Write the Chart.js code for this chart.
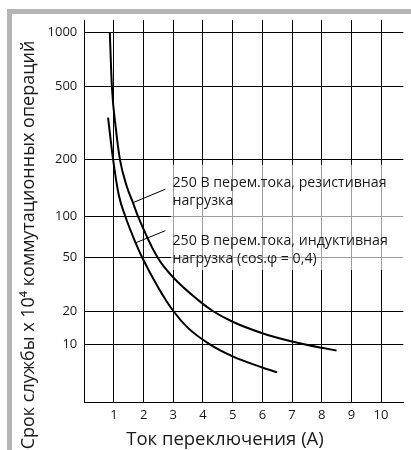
<!DOCTYPE html>
<html>
<head>
<meta charset="utf-8">
<script src="https://cdn.jsdelivr.net/npm/chart.js@4/dist/chart.umd.min.js"></script>
<style>
  html, body { margin: 0; padding: 0; background: #fff; }
  canvas { display: block; }
</style>
</head>
<body>
<canvas id="c" width="411" height="450"></canvas>
<script>
// ---------- data ----------
const xTickValues = [0, 1, 2, 3, 4, 5, 6, 7, 8, 9, 10];
const yTickValues = [10, 20, 50, 100, 200, 500, 1000];

const resistiveX = [0.86, 0.93, 1.06, 1.2, 1.43, 1.64, 1.81, 2.47, 3.0, 3.85, 4.33, 5.0, 6.0, 7.0, 8.0, 8.5];
const resistiveY = [1000, 500, 298, 200, 144, 118, 100, 50, 35.5, 24.0, 20, 16.0, 12.6, 10.6, 9.3, 8.8];

const inductiveX = [0.8, 0.97, 1.16, 1.38, 1.73, 1.95, 2.5, 3.0, 3.5, 4.23, 5.0, 6.0, 6.5];
const inductiveY = [338, 200, 130, 100, 64, 50, 29.7, 20, 14, 10, 7.8, 6.2, 5.6];

const resistiveLabel = ['250 В перем.тока, резистивная', 'нагрузка'];
const inductiveLabel = ['250 В перем.тока, индуктивная', 'нагрузка (cos.φ = 0,4)'];
const xTitle = 'Ток переключения (А)';
const yTitle = 'Срок службы х 10⁴ коммутационных операций';

// label anchors (data coordinates)
const labelX = 2.97;
const resistiveLabelY = 143;
const inductiveLabelY = 61.7;
const resistiveLeader = [[1.64, 118], [2.73, 139]];
const inductiveLeader = [[1.73, 64], [2.73, 78.5]];

// ---------- custom warped logarithmic scale (as in the original drawing) ----------
class WarpedLogScale extends Chart.Scale {
  determineDataLimits() {
    const a = this.options.anchors;
    this.min = a[0][0];
    this.max = a[a.length - 1][0];
  }
  buildTicks() {
    return (this.options.tickValues || []).map(v => ({ value: v }));
  }
  getLabelForValue(value) { return String(value); }
  _toDecimal(value) {
    const a = this.options.anchors;
    const lv = Math.log10(value);
    let i = 0;
    while (i < a.length - 2 && lv > Math.log10(a[i + 1][0])) i++;
    const l0 = Math.log10(a[i][0]), l1 = Math.log10(a[i + 1][0]);
    return a[i][1] + (lv - l0) / (l1 - l0) * (a[i + 1][1] - a[i][1]);
  }
  getPixelForValue(value) {
    if (value === null || value === undefined || isNaN(value) || value <= 0) return NaN;
    return this.getPixelForDecimal(this._toDecimal(value));
  }
  getPixelForTick(index) {
    const ticks = this.ticks;
    if (index < 0 || index > ticks.length - 1) return null;
    return this.getPixelForValue(ticks[index].value);
  }
  getValueForPixel(pixel) {
    const d = this.getDecimalForPixel(pixel);
    const a = this.options.anchors;
    let i = 0;
    while (i < a.length - 2 && d > a[i + 1][1]) i++;
    const l0 = Math.log10(a[i][0]), l1 = Math.log10(a[i + 1][0]);
    return Math.pow(10, l0 + (d - a[i][1]) / (a[i + 1][1] - a[i][1]) * (l1 - l0));
  }
}
WarpedLogScale.id = 'warpedLog';
WarpedLogScale.defaults = {};
Chart.register(WarpedLogScale);

const FONT = '"Open Sans", "DejaVu Sans", sans-serif';
const TEXT = '#1a1a1a';

const decor = {
  id: 'decor',
  beforeDraw(chart) {
    const ctx = chart.ctx;
    ctx.save();
    ctx.fillStyle = '#ffffff';
    ctx.fillRect(0, 0, chart.width, chart.height);
    ctx.fillStyle = '#b5b5b5';
    ctx.fillRect(7, 9, chart.width - 7, 5);
    ctx.fillRect(7, 9, 5, chart.height - 9);
    ctx.restore();
  },
  afterDatasetsDraw(chart) {
    const { ctx, scales: { x, y } } = chart;
    const tx = x.getPixelForValue(labelX);
    const b1 = y.getPixelForValue(resistiveLabelY);
    const b2 = y.getPixelForValue(inductiveLabelY);
    const lh = 18;
    ctx.save();
    // translucent white box behind the labels
    ctx.fillStyle = 'rgba(255,255,255,0.62)';
    ctx.fillRect(tx - 1.5, b1 - 22, chart.width - tx + 1.5, (b2 + lh + 7) - (b1 - 22));
    // leader lines
    ctx.strokeStyle = '#000';
    ctx.lineWidth = 1;
    [resistiveLeader, inductiveLeader].forEach(l => {
      ctx.beginPath();
      ctx.moveTo(x.getPixelForValue(l[0][0]), y.getPixelForValue(l[0][1]));
      ctx.lineTo(x.getPixelForValue(l[1][0]), y.getPixelForValue(l[1][1]));
      ctx.stroke();
    });
    // label text
    ctx.fillStyle = TEXT;
    ctx.font = '14.2px ' + FONT;
    ctx.textAlign = 'left';
    ctx.textBaseline = 'alphabetic';
    resistiveLabel.forEach((t, i) => ctx.fillText(t, tx, b1 + i * lh));
    inductiveLabel.forEach((t, i) => ctx.fillText(t, tx, b2 + i * lh));
    ctx.restore();
  },
  afterDraw(chart) {
    const ctx = chart.ctx;
    ctx.save();
    ctx.fillStyle = TEXT;
    ctx.font = '18.5px ' + FONT;
    ctx.textAlign = 'center';
    ctx.textBaseline = 'alphabetic';
    ctx.fillText(xTitle, 225, 445);
    ctx.font = '18px ' + FONT;
    ctx.translate(33.5, 245);
    ctx.rotate(-Math.PI / 2);
    ctx.fillText(yTitle, 0, 0);
    ctx.restore();
  }
};

new Chart(document.getElementById('c'), {
  type: 'line',
  data: {
    datasets: [
      {
        label: resistiveLabel.join(' '),
        data: resistiveX.map((v, i) => ({ x: v, y: resistiveY[i] })),
        borderColor: '#000',
        borderWidth: 2,
        pointRadius: 0,
        fill: false,
        cubicInterpolationMode: 'monotone'
      },
      {
        label: inductiveLabel.join(' '),
        data: inductiveX.map((v, i) => ({ x: v, y: inductiveY[i] })),
        borderColor: '#000',
        borderWidth: 2,
        pointRadius: 0,
        fill: false,
        cubicInterpolationMode: 'monotone'
      }
    ]
  },
  options: {
    responsive: false,
    animation: false,
    devicePixelRatio: 1,
    layout: { padding: { top: 20, right: 7.7, left: 0, bottom: 0 } },
    plugins: { legend: { display: false }, tooltip: { enabled: false }, title: { display: false } },
    scales: {
      x: {
        type: 'linear',
        min: 0,
        max: 10.75,
        afterFit(s) { s.height = 47.3; },
        afterBuildTicks(s) { s.ticks = xTickValues.map(v => ({ value: v })); },
        grid: { color: '#000', lineWidth: 1, drawTicks: false },
        border: { display: true, color: '#000', width: 1 },
        ticks: {
          autoSkip: false,
          maxRotation: 0,
          padding: 5,
          color: TEXT,
          font: { family: FONT, size: 13 },
          callback: v => (v === 0 ? '' : String(v))
        }
      },
      y: {
        type: 'warpedLog',
        position: 'left',
        anchors: [[3, 0], [10, 0.1526], [20, 0.2396], [50, 0.3794], [100, 0.4871], [200, 0.636], [500, 0.8257], [1000, 0.9668], [1177, 1]],
        tickValues: yTickValues,
        afterFit(s) { s.width = 84.3; },
        grid: { color: '#000', lineWidth: 1, drawTicks: false },
        border: { display: true, color: '#000', width: 1 },
        ticks: {
          padding: 7,
          color: TEXT,
          font: { family: FONT, size: 13 },
          callback: v => String(v)
        }
      }
    }
  },
  plugins: [decor]
});
</script>
</body>
</html>
